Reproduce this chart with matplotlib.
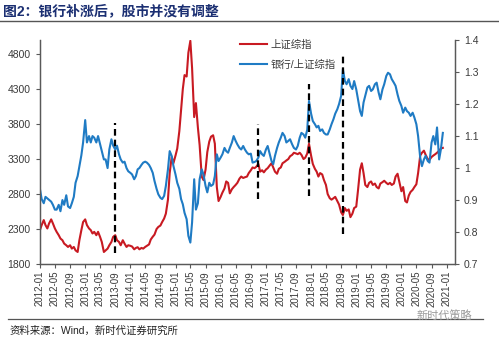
import matplotlib
matplotlib.use('Agg')
import matplotlib.pyplot as plt
import matplotlib.ticker as mticker
import pandas as pd

plt.rcParams['font.family'] = ['Liberation Sans', 'Noto Sans CJK SC', 'DejaVu Sans']

# Shanghai Composite, semi-monthly samples 2012-01 .. 2020-12
sse = [
    # 2012
    2284, 2356, 2428, 2356, 2308, 2380, 2438, 2380, 2308, 2260, 2212, 2164,
    2140, 2092, 2068, 2044, 2068, 2020, 2044, 1995, 1972, 2140, 2284, 2400,
    # 2013
    2438, 2356, 2308, 2284, 2236, 2260, 2212, 2260, 2188, 2116, 1972, 1995,
    2020, 2068, 2116, 2188, 2212, 2140, 2116, 2068, 2140, 2092, 2044, 2068,
    # 2014
    2060, 2050, 2010, 2030, 2040, 2010, 2030, 2020, 2044, 2060, 2080, 2150,
    2190, 2220, 2300, 2330, 2350, 2400, 2450, 2520, 2720, 3100, 3330, 3240,
    # 2015
    3350, 3450, 3700, 4000, 4300, 4500, 4480, 4820, 4990, 4600, 3900, 4100,
    3750, 3500, 3050, 3000, 3150, 3400, 3550, 3620, 3640, 3520, 2900, 2700,
    # 2016
    2760, 2820, 2880, 2980, 2960, 2810, 2870, 2900, 2930, 2960, 3020, 3050,
    3030, 3040, 3050, 3100, 3140, 3180, 3170, 3190, 3230, 3120, 3140, 3110,
    # 2017
    3150, 3170, 3210, 3240, 3180, 3120, 3090, 3160, 3180, 3240, 3260, 3280,
    3300, 3340, 3360, 3390, 3380, 3370, 3390, 3360, 3300, 3320, 3380, 3520,
    # 2018
    3350, 3230, 3160, 3120, 3050, 3100, 3080, 3000, 2930, 2800, 2740, 2720,
    2740, 2760, 2700, 2650, 2540, 2500, 2600, 2560, 2580, 2470, 2520, 2600,
    # 2019
    2620, 2850, 3150, 3240, 3100, 2930, 2900, 2960, 2980, 2930, 2950, 2900,
    2880, 2950, 2970, 2990, 2960, 2940, 2960, 2930, 2950, 3050, 3090, 2980,
    # 2020
    2840, 2900, 2700, 2680, 2780, 2830, 2860, 2900, 2940, 3100, 3350, 3390,
    3420, 3360, 3300, 3290, 3330, 3350, 3370, 3390, 3420, 3450, 3460,
]

# bank index relative to the composite, same dates
bank_ratio = [
    # 2012
    0.935, 0.903, 0.890, 0.910, 0.905, 0.900, 0.895, 0.885, 0.870, 0.870, 0.885, 0.865,
    0.900, 0.885, 0.915, 0.880, 0.875, 0.890, 0.910, 0.954, 0.975, 1.006, 1.040, 1.080,
    # 2013
    1.150, 1.080, 1.100, 1.080, 1.100, 1.095, 1.080, 1.100, 1.075, 1.053, 1.027, 1.027,
    1.000, 1.058, 1.090, 1.070, 1.058, 1.070, 1.043, 1.027, 1.017, 1.020, 1.000, 0.990,
    # 2014
    0.985, 0.980, 0.965, 0.975, 0.996, 1.000, 1.010, 1.017, 1.020, 1.017, 1.010, 1.000,
    0.985, 0.960, 0.935, 0.918, 0.907, 0.903, 0.913, 0.944, 0.996, 1.053, 1.038, 1.007,
    # 2015
    0.980, 0.954, 0.935, 0.903, 0.887, 0.860, 0.840, 0.788, 0.767, 0.830, 0.965, 0.870,
    0.890, 0.965, 0.996, 0.980, 0.944, 0.924, 0.954, 0.944, 0.949, 0.975, 1.043, 1.022,
    # 2016
    1.033, 1.043, 1.063, 1.053, 1.048, 1.063, 1.080, 1.100, 1.085, 1.074, 1.063, 1.058,
    1.069, 1.058, 1.048, 1.043, 1.045, 1.017, 1.019, 1.022, 1.033, 1.053, 1.043, 1.038,
    # 2017
    1.058, 1.069, 1.043, 1.022, 1.012, 1.038, 1.063, 1.080, 1.095, 1.110, 1.100, 1.080,
    1.085, 1.090, 1.074, 1.063, 1.058, 1.069, 1.095, 1.110, 1.105, 1.095, 1.120, 1.210,
    # 2018
    1.170, 1.147, 1.137, 1.127, 1.132, 1.116, 1.121, 1.110, 1.105, 1.105, 1.121, 1.137,
    1.153, 1.170, 1.184, 1.200, 1.226, 1.310, 1.272, 1.262, 1.278, 1.257, 1.247, 1.272,
    # 2019
    1.246, 1.215, 1.178, 1.163, 1.205, 1.226, 1.252, 1.257, 1.241, 1.246, 1.262, 1.267,
    1.236, 1.215, 1.246, 1.262, 1.288, 1.298, 1.293, 1.278, 1.267, 1.257, 1.230, 1.210,
    # 2020
    1.194, 1.173, 1.189, 1.178, 1.173, 1.163, 1.173, 1.158, 1.137, 1.100, 1.033, 1.006,
    1.027, 1.038, 1.022, 1.017, 1.080, 1.100, 1.074, 1.127, 1.027, 1.058, 1.110,
]

# moments when banks caught up (dashed markers, right-axis units)
event_dates = ['2013-09-01', '2016-11-01', '2017-12-13', '2018-09-16']
event_lo = [0.735, 0.903, 0.912, 0.794]
event_hi = [1.142, 1.137, 1.262, 1.356]

assert len(sse) == len(bank_ratio)
dates = pd.date_range('2012-01-01', periods=len(sse), freq='SMS')

RED = '#C81A22'
BLUE = '#1F7BC4'
AXC = '#595959'

fig = plt.figure(figsize=(4.99, 3.40), dpi=100)
ax = fig.add_axes([0.080, 0.2235, 0.832, 0.6585])
ax2 = ax.twinx()

l1, = ax.plot(dates, sse, color=RED, lw=1.5, label='上证综指')
l2, = ax2.plot(dates, bank_ratio, color=BLUE, lw=1.5, label='银行/上证综指')
ax2.vlines(pd.to_datetime(event_dates), event_lo, event_hi, colors='black',
           linestyles=(0, (3, 1.8)), lw=1.6, zorder=5)

ax.set_ylim(1800, 5000)
ax.set_yticks(range(1800, 5000, 500))
ax2.set_ylim(0.7, 1.4)
ax2.set_yticks([0.7, 0.8, 0.9, 1.0, 1.1, 1.2, 1.3, 1.4])
ax2.yaxis.set_major_formatter(mticker.FormatStrFormatter('%g'))

xt = pd.date_range('2012-01-01', '2021-01-01', freq='4MS')
ax.set_xlim(pd.Timestamp('2012-01-01'), pd.Timestamp('2021-03-10'))
ax.set_xticks(xt)
ax.set_xticklabels([d.strftime('%Y-%m') for d in xt], rotation=90)

for a in (ax, ax2):
    a.spines['top'].set_visible(False)
    for s in ('left', 'right', 'bottom'):
        a.spines[s].set_color(AXC)
        a.spines[s].set_linewidth(0.9)
    a.tick_params(colors=AXC, labelcolor='#3a3a3a', labelsize=7.5,
                  length=3, width=0.8, direction='out')
ax.tick_params(axis='x', labelsize=7, pad=2)

ax.legend([l1, l2], ['上证综指', '银行/上证综指'], loc='upper left',
          bbox_to_anchor=(0.46, 1.045), frameon=False, fontsize=7.5,
          handlelength=2.6, handletextpad=0.3, labelspacing=1.0,
          labelcolor='#3a3a3a')

fig.text(0.006, 0.967, '图2：银行补涨后，股市并没有调整', fontsize=10,
         fontweight='bold', color='#1B2F72', va='center', ha='left')
fig.add_artist(plt.Line2D([0, 1], [0.939, 0.939], color='#555555', lw=1.0))
fig.add_artist(plt.Line2D([0.016, 0.968], [0.062, 0.062], color='#555555', lw=0.9))
fig.text(0.02, 0.028, '资料来源：Wind，新时代证券研究所', fontsize=7.5,
         color='#222222', va='center', ha='left')
fig.text(0.835, 0.072, '新时代策略', fontsize=8, color='#9a9a9a',
         va='center', ha='left')

fig.savefig('out.png', dpi=100)
